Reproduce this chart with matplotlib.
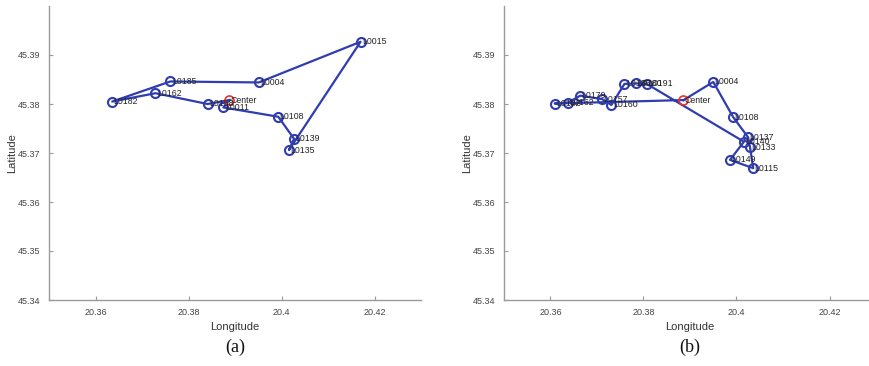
import matplotlib
matplotlib.use("Agg")
import matplotlib.pyplot as plt
from matplotlib.ticker import FormatStrFormatter, FuncFormatter

# ---- data ----
# Panel (a): route (closed loop starting and ending at Center)
a_names = ["Center", "L0011", "L0108", "L0139", "L0135", "L0015", "L0004",
           "L0185", "L0182", "L0162", "L0158", "Center"]
a_lon = [20.3888, 20.3875, 20.3993, 20.4027, 20.4016, 20.4170, 20.3951,
         20.3761, 20.3636, 20.3729, 20.3841, 20.3888]
a_lat = [45.3808, 45.3793, 45.3774, 45.3729, 45.3706, 45.3927, 45.3844,
         45.3846, 45.3805, 45.3822, 45.3800, 45.3808]

# Panel (b)
b_names = ["Center", "L0004", "L0108", "L0137", "L0133", "L0115", "L0149",
           "L0140", "L0191", "L0180", "L0185", "L0160", "L0157", "L0179",
           "L0162", "L0182", "Center"]
b_lon = [20.3886, 20.3950, 20.3993, 20.4025, 20.4029, 20.4036, 20.3986,
         20.4016, 20.3807, 20.3784, 20.3759, 20.3731, 20.3711, 20.3664,
         20.3638, 20.3609, 20.3886]
b_lat = [45.3808, 45.3845, 45.3773, 45.3732, 45.3712, 45.3669, 45.3686,
         45.3723, 45.3841, 45.3842, 45.3841, 45.3798, 45.3810, 45.3817,
         45.3803, 45.3801, 45.3808]

x_ticks = [20.36, 20.38, 20.40, 20.42]
y_ticks = [45.34, 45.35, 45.36, 45.37, 45.38, 45.39]
panel_labels = ["(a)", "(b)"]

BLUE = "#2f3db0"
RED = "#e8322a"
GRAY = "#9a9a9a"
TXT = "#444444"

fig = plt.figure(figsize=(8.7, 3.66), dpi=100)
plt.rcParams["font.family"] = ["Liberation Sans", "DejaVu Sans"]

axes_rects = [[49/870, 1-300/366, 372/870, 294/366],
              [504/870, 1-300/366, 372/870, 294/366]]


def draw(ax, names, lon, lat, lab):
    ax.plot(lon, lat, "-", color=BLUE, lw=1.6, zorder=2)
    for n, x, y in zip(names[:-1], lon[:-1], lat[:-1]):
        if n == "Center":
            ax.plot(x, y, "o", mfc="none", mec=RED, mew=1.2, ms=6.5, zorder=4)
        else:
            ax.plot(x, y, "o", mfc="none", mec=BLUE, mew=1.5, ms=6.5, zorder=3)
        ax.text(x + 0.0003, y, n, fontsize=6.3, color="#222222",
                va="center", ha="left", zorder=5)
    ax.set_xlim(20.35, 20.43)
    ax.set_ylim(45.34, 45.40)
    ax.set_xticks(x_ticks)
    ax.set_yticks(y_ticks)
    ax.xaxis.set_major_formatter(FuncFormatter(lambda v, p: "%g" % round(v, 4)))
    ax.yaxis.set_major_formatter(FormatStrFormatter("%.2f"))
    for s in ["top", "right"]:
        ax.spines[s].set_visible(False)
    for s in ["left", "bottom"]:
        ax.spines[s].set_color(GRAY)
        ax.spines[s].set_linewidth(1.0)
    ax.tick_params(direction="in", length=3, width=0.8, color=GRAY,
                   labelsize=6.5, labelcolor=TXT, pad=6)
    ax.set_xlabel("Longitude", fontsize=8, color="#333333", labelpad=3)
    ax.set_ylabel("Latitude", fontsize=8, color="#333333", labelpad=1)
    ax.text(0.5, -0.13, lab, transform=ax.transAxes, ha="center", va="top",
            fontsize=13, family=["Liberation Serif", "DejaVu Serif"], color="#111111")


for rect, names, lon, lat, lab in [(axes_rects[0], a_names, a_lon, a_lat, panel_labels[0]),
                                   (axes_rects[1], b_names, b_lon, b_lat, panel_labels[1])]:
    ax = fig.add_axes(rect)
    draw(ax, names, lon, lat, lab)

fig.savefig("out.png", dpi=100, facecolor="white")
